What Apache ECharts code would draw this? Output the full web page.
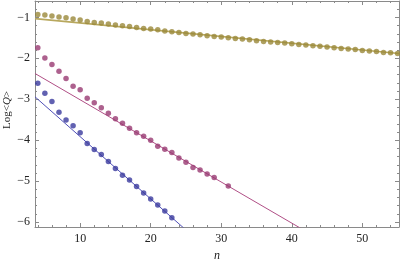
<!DOCTYPE html>
<html><head><meta charset="utf-8">
<script src="https://cdn.jsdelivr.net/npm/echarts@6/dist/echarts.min.js"></script>
<style>html,body{margin:0;padding:0;background:#fff}#c{width:400px;height:260px}</style>
</head><body><div id="c"></div>
<script>
// ---- data ----
const nOlive = [4,5,6,7,8,9,10,11,12,13,14,15,16,17,18,19,20,21,22,23,24,25,26,27,28,29,30,31,32,33,34,35,36,37,38,39,40,41,42,43,44,45,46,47,48,49,50,51,52,53,54,55];
const logOlive = [-0.927,-0.944,-0.968,-0.993,-1.009,-1.042,-1.066,-1.099,-1.123,-1.139,-1.164,-1.188,-1.205,-1.221,-1.245,-1.270,-1.286,-1.302,-1.335,-1.352,-1.367,-1.391,-1.408,-1.425,-1.450,-1.465,-1.482,-1.499,-1.513,-1.530,-1.548,-1.572,-1.587,-1.600,-1.612,-1.628,-1.645,-1.661,-1.677,-1.694,-1.703,-1.726,-1.743,-1.759,-1.775,-1.783,-1.808,-1.824,-1.832,-1.857,-1.865,-1.881];
const nPurple = [4,5,6,7,8,9,10,11,12,13,14,15,16,17,18,19,20,21,22,23,24,25,26,27,28,29,31];
const logPurple = [-1.743,-1.995,-2.150,-2.313,-2.492,-2.680,-2.769,-2.973,-3.087,-3.210,-3.340,-3.478,-3.585,-3.707,-3.821,-3.902,-4.000,-4.147,-4.220,-4.301,-4.433,-4.538,-4.667,-4.726,-4.824,-4.912,-5.117];
const nBlue = [4,5,6,7,8,9,10,11,12,13,14,15,16,17,18,19,20,21,22,23];
const logBlue = [-2.610,-2.851,-3.054,-3.315,-3.507,-3.650,-3.821,-4.078,-4.225,-4.350,-4.518,-4.690,-4.856,-4.970,-5.130,-5.289,-5.435,-5.584,-5.731,-5.895];
// fitted lines: [intercept, slope]
const fitOlive = [-0.970, -0.01654];
const fitPurple = [-2.009, -0.1004];
const fitBlue = [-2.393, -0.152];
const xRange = [3.6, 55.2];
const yRange = [-6.12, -0.6];
const xTitle = 'n';

// ---- chart ----
const colOlive = '#9a883a', colOliveLine = '#b8a85e';
const colPurple = '#983a72', colPurpleLine = '#b04f86';
const colBlue = '#3a3a9e', colBlueLine = '#5050b8';
const axisGray = '#8a8a8a';
const font = '"Liberation Serif","DejaVu Serif",serif';

function pts(xs, ys){ return xs.map((x,i)=>[x, ys[i]]); }
function fitLine(f){ return xRange.map(x=>[x, f[0] + f[1]*x]); }
const minus = v => String(v).replace('-', '\u2212');

function xAx(pos, show){
  return {type:'value', position:pos, min:xRange[0], max:xRange[1], splitNumber:5,
    axisLine:{show:true, onZero:false, lineStyle:{color:axisGray, width:1}},
    axisTick:{show:true, inside:true, length:4, lineStyle:{color:axisGray}},
    minorTick:{show:true, splitNumber:5, length:2, lineStyle:{color:axisGray}},
    axisLabel:{show:show, showMinLabel:false, showMaxLabel:false, margin:6, color:'#222', fontFamily:font, fontSize:12},
    splitLine:{show:false},
    name: show ? xTitle : '', nameLocation:'middle', nameGap:18,
    nameTextStyle:{fontFamily:font, fontSize:12, fontStyle:'italic', color:'#222'}};
}
function yAx(pos, show){
  return {type:'value', position:pos, min:yRange[0], max:yRange[1], splitNumber:5,
    axisLine:{show:true, onZero:false, lineStyle:{color:axisGray, width:1}},
    axisTick:{show:true, inside:true, length:4, lineStyle:{color:axisGray}},
    minorTick:{show:true, splitNumber:5, length:2, lineStyle:{color:axisGray}},
    axisLabel:{show:show, showMinLabel:false, showMaxLabel:false, margin:5, color:'#222', fontFamily:font, fontSize:12, formatter:minus},
    splitLine:{show:false}};
}

const chart = echarts.init(document.getElementById('c'), null, {renderer:'canvas'});
chart.setOption({
  animation:false,
  grid:{left:35, top:1, width:364, height:226, containLabel:false, outerBoundsMode:'none'},
  xAxis:[xAx('bottom', true), xAx('top', false)],
  yAxis:[yAx('left', true), yAx('right', false)],
  graphic:[{type:'text', x:7, y:110, rotation:Math.PI/2,
    style:{text:'{a|Log<}{b|Q}{a|>}', align:'center', verticalAlign:'middle',
      rich:{a:{fontFamily:font, fontSize:11, fill:'#222'}, b:{fontFamily:font, fontSize:11, fontStyle:'italic', fill:'#222'}}}}],
  series:[
    {type:'line', data:fitLine(fitOlive), symbol:'none', lineStyle:{color:colOliveLine, width:1.6}, clip:true, z:1},
    {type:'line', data:fitLine(fitPurple), symbol:'none', lineStyle:{color:colPurpleLine, width:1}, clip:true, z:1},
    {type:'line', data:fitLine(fitBlue), symbol:'none', lineStyle:{color:colBlueLine, width:1}, clip:true, z:1},
    {type:'scatter', data:pts(nOlive, logOlive), symbolSize:5.5, itemStyle:{color:colOlive}, z:3},
    {type:'scatter', data:pts(nPurple, logPurple), symbolSize:5.5, itemStyle:{color:colPurple}, z:3},
    {type:'scatter', data:pts(nBlue, logBlue), symbolSize:5.5, itemStyle:{color:colBlue}, z:3}
  ]
});
</script></body></html>
